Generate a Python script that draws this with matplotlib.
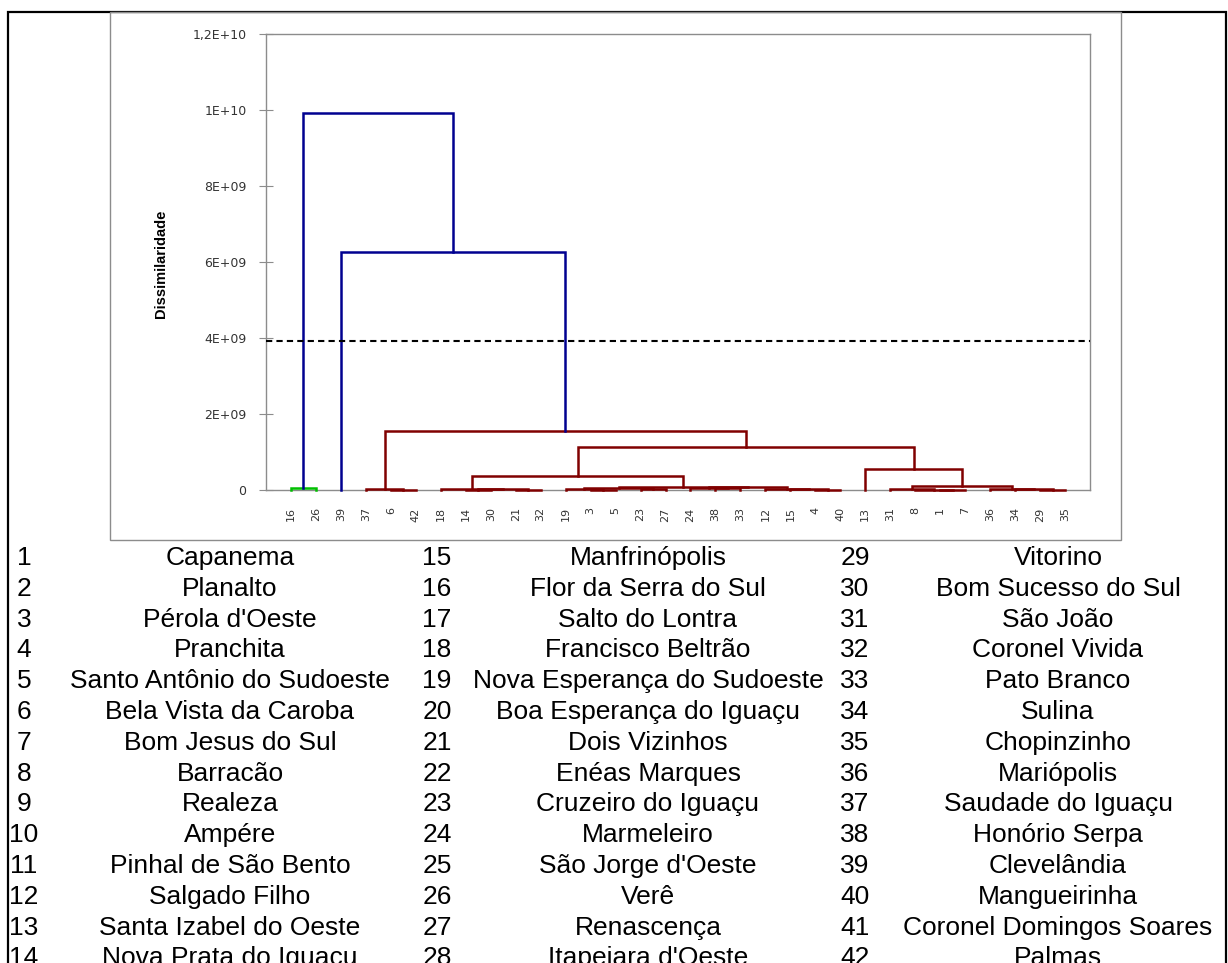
import matplotlib.pyplot as plt
from matplotlib.patches import Rectangle

# leaves in the order they appear along the x axis
leaf_order = [16, 26, 39, 37, 6, 42, 18, 14, 30, 21, 32, 19, 3, 5, 23, 27,
              24, 38, 33, 12, 15, 4, 40, 13, 31, 8, 1, 7, 36, 34, 29, 35]

# agglomeration steps: (left, right, dissimilarity); "mN" = result of step N
merge_left = [16, 6, 37, 14, 21, "m3", 18, 3, 19, 23, "m8", 38, 24, 4, 15, 12,
              "m12", "m10", "m6", 1, 8, 31, 29, 34, 36, "m21", 13, "m18", "m2", 39, "m0"]
merge_right = [26, 42, "m1", 30, 32, "m4", "m5", 5, "m7", 27, "m9", 33, "m11", 40, "m13", "m14",
               "m15", "m16", "m17", 7, "m19", "m20", 35, "m22", "m23", "m24", "m25", "m26", "m27", "m28", "m29"]
merge_height = [0.04e9, 0.01e9, 0.02e9, 0.01e9, 0.005e9, 0.02e9, 0.03e9, 0.01e9, 0.02e9, 0.015e9, 0.04e9,
                0.05e9, 0.06e9, 0.01e9, 0.02e9, 0.03e9, 0.07e9, 0.08e9, 0.37e9, 0.005e9, 0.01e9,
                0.02e9, 0.01e9, 0.02e9, 0.03e9, 0.10e9, 0.55e9, 1.13e9, 1.55e9, 6.26e9, 9.92e9]

cutoff = 3.92e9

yticks = [0, 2e9, 4e9, 6e9, 8e9, 1e10, 1.2e10]
ytick_labels = ["0", "2E+09", "4E+09", "6E+09", "8E+09", "1E+10", "1,2E+10"]

municipios = ["Capanema", "Planalto", "Pérola d'Oeste", "Pranchita", "Santo Antônio do Sudoeste",
              "Bela Vista da Caroba", "Bom Jesus do Sul", "Barracão", "Realeza", "Ampére",
              "Pinhal de São Bento", "Salgado Filho", "Santa Izabel do Oeste", "Nova Prata do Iguaçu",
              "Manfrinópolis", "Flor da Serra do Sul", "Salto do Lontra", "Francisco Beltrão",
              "Nova Esperança do Sudoeste", "Boa Esperança do Iguaçu", "Dois Vizinhos", "Enéas Marques",
              "Cruzeiro do Iguaçu", "Marmeleiro", "São Jorge d'Oeste", "Verê", "Renascença",
              "Itapejara d'Oeste", "Vitorino", "Bom Sucesso do Sul", "São João", "Coronel Vivida",
              "Pato Branco", "Sulina", "Chopinzinho", "Mariópolis", "Saudade do Iguaçu",
              "Honório Serpa", "Clevelândia", "Mangueirinha", "Coronel Domingos Soares", "Palmas"]

W, H = 1228, 963
BLUE = "#000090"
RED = "#800000"
GREEN = "#00c000"
GREY = "#8c8c8c"
TXT = "#333333"


def fx(x):
    return x / W


def fy(y):
    return 1 - y / H


fig = plt.figure(figsize=(W / 100, H / 100), dpi=100)

# outer frame and chart frame
fig.add_artist(Rectangle((fx(8), fy(990)), fx(1226) - fx(8), fy(12) - fy(990),
                         transform=fig.transFigure, fill=False, ec="black", lw=1.6))
fig.add_artist(Rectangle((fx(110), fy(540)), fx(1121) - fx(110), fy(12) - fy(540),
                         transform=fig.transFigure, fill=False, ec=GREY, lw=1.0))

ax = fig.add_axes([fx(266), fy(490), (1090 - 266) / W, (490 - 34) / H])

# walk the merges and draw each link
xpos = {leaf: i for i, leaf in enumerate(leaf_order)}
hpos = {leaf: 0.0 for leaf in leaf_order}
members = {leaf: {leaf} for leaf in leaf_order}
for k, (a, b, h) in enumerate(zip(merge_left, merge_right, merge_height)):
    name = "m%d" % k
    xa, xb = xpos[a], xpos[b]
    members[name] = members[a] | members[b]
    if h > cutoff:
        c = BLUE
    elif 16 in members[name]:
        c = GREEN
    else:
        c = RED
    ax.plot([xa, xa, xb, xb], [hpos[a], h, h, hpos[b]], color=c, lw=1.8,
            solid_joinstyle="miter", clip_on=False, zorder=3)
    xpos[name] = (xa + xb) / 2
    hpos[name] = h

ax.axhline(cutoff, color="black", lw=1.5, ls=(0, (3, 2)), zorder=4)

ax.set_xlim(-1, 32)
ax.set_ylim(0, 1.2e10)
ax.set_xticks(range(len(leaf_order)))
ax.set_xticklabels([str(v) for v in leaf_order], rotation=90, fontsize=8, color=TXT)
ax.tick_params(axis="x", length=0, pad=12.5)
ax.set_yticks(yticks)
ax.set_yticklabels(ytick_labels, fontsize=9, color=TXT)
ax.tick_params(axis="y", direction="inout", length=10, color=GREY, pad=9)
for s in ax.spines.values():
    s.set_color(GREY)
    s.set_linewidth(1.0)

fig.text(fx(161), fy(264), "Dissimilaridade", rotation=90, ha="center", va="center",
         fontsize=10.5, fontweight="bold", fontstretch="condensed",
         family=["Liberation Sans Narrow", "Liberation Sans", "DejaVu Sans"])

# municipality key, three columns of 14
num_center = [24, 437, 855]
name_center = [230, 648, 1058]
for i, nome in enumerate(municipios):
    col, row = divmod(i, 14)
    y = fy(565 + 30.8 * row)
    fig.text(fx(num_center[col]), y, str(i + 1), ha="center", va="baseline",
             fontsize=19, family="Liberation Sans")
    fig.text(fx(name_center[col]), y, nome, ha="center", va="baseline",
             fontsize=19, family="Liberation Sans")

fig.savefig("out.png", dpi=100)
